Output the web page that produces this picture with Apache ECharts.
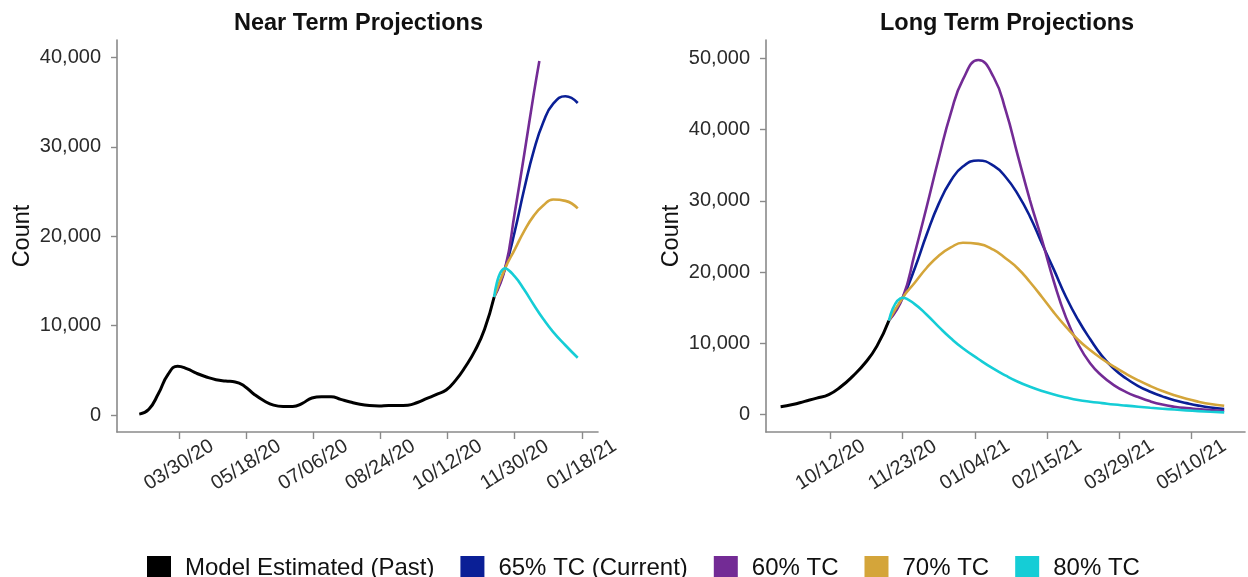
<!DOCTYPE html>
<html>
<head>
<meta charset="utf-8">
<script src="https://cdn.jsdelivr.net/npm/echarts@6/dist/echarts.min.js"></script>
<style>
  html, body { margin: 0; padding: 0; background: #ffffff; }
  #chart { width: 1248px; height: 577px; }
</style>
</head>
<body>
<div id="chart"></div>
<script>
// ---- Model estimates (weekly) ----
const pastDates = [
  '2020-03-01','2020-03-08','2020-03-15','2020-03-22','2020-03-29','2020-04-05','2020-04-12','2020-04-19',
  '2020-04-26','2020-05-03','2020-05-10','2020-05-17','2020-05-24','2020-05-31','2020-06-07','2020-06-14',
  '2020-06-21','2020-06-28','2020-07-05','2020-07-12','2020-07-19','2020-07-26','2020-08-02','2020-08-09',
  '2020-08-16','2020-08-23','2020-08-30','2020-09-06','2020-09-13','2020-09-20','2020-09-27','2020-10-04',
  '2020-10-11','2020-10-18','2020-10-25','2020-11-01','2020-11-08','2020-11-15'
];
const pastCounts = [
  100, 650, 2400, 4550, 5450, 5150, 4650, 4250,
  3950, 3800, 3700, 3200, 2300, 1600, 1100, 950,
  950, 1300, 1900, 2050, 2050, 1750, 1450, 1200,
  1050, 1000, 1050, 1050, 1100, 1400, 1850, 2300,
  2800, 3900, 5400, 7200, 9600, 13200
];

// ---- Projection scenarios by transmission control (TC) ----
const projectionDates = [
  '2020-11-15','2020-11-23','2020-11-30','2020-12-07','2020-12-14','2020-12-21','2020-12-28','2021-01-06',
  '2021-01-15','2021-01-22','2021-01-29','2021-02-05','2021-02-12','2021-02-19','2021-02-26','2021-03-05',
  '2021-03-12','2021-03-19','2021-03-26','2021-04-02','2021-04-09','2021-04-16','2021-04-23','2021-04-30',
  '2021-05-07','2021-05-14','2021-05-21','2021-05-29'
];
const tc65 = [
  13200, 16400, 20500, 25300, 29600, 32800, 34800, 35650,
  34900, 33300, 30900, 27800, 24000, 20300, 16500, 13300,
  10600, 8200, 6400, 5050, 4000, 3200, 2550, 2000,
  1600, 1250, 980, 770
];
const tc60 = [
  13200, 16400, 22600, 29200, 36000, 42300, 47000, 49750,
  47300, 42600, 36300, 30100, 24500, 18600, 13600, 9900,
  7200, 5400, 4100, 3150, 2450, 1850, 1400, 1100,
  900, 770, 640, 530
];
const tc70 = [
  13200, 16400, 18500, 20600, 22300, 23450, 24100, 23950,
  23100, 21900, 20500, 18600, 16500, 14300, 12300, 10500,
  9050, 7800, 6700, 5700, 4800, 4000, 3300, 2700,
  2200, 1800, 1480, 1230
];
const tc80 = [
  13200, 16400, 15500, 14000, 12300, 10700, 9300, 7800,
  6400, 5450, 4600, 3900, 3300, 2800, 2400, 2050,
  1800, 1600, 1400, 1250, 1100, 950, 820, 700,
  580, 480, 390, 310
];
// Last plotted 60% TC point in the near-term view, where it leaves the count range
const tc60NearEnd = ['2020-12-18', 39600];

// ---- Axis ticks ----
const nearTicks = ['2020-03-30','2020-05-18','2020-07-06','2020-08-24','2020-10-12','2020-11-30','2021-01-18'];
const longTicks = ['2020-10-12','2020-11-23','2021-01-04','2021-02-15','2021-03-29','2021-05-10'];
const nearCountTicks = [0, 10000, 20000, 30000, 40000];
const longCountTicks = [0, 10000, 20000, 30000, 40000, 50000];

// ---- Labels ----
const seriesNames = ['Model Estimated (Past)', '65% TC (Current)', '60% TC', '70% TC', '80% TC'];
const seriesColors = ['#000000', '#0a1f96', '#732b95', '#d4a53a', '#15cdd6'];

const DAY = 86400000;
const toTime = s => { const [y, m, d] = s.split('-').map(Number); return Date.UTC(y, m - 1, d); };
const pad = n => String(n).padStart(2, '0');
const fmtDate = v => { const d = new Date(v); return pad(d.getUTCMonth() + 1) + '/' + pad(d.getUTCDate()) + '/' + pad(d.getUTCFullYear() % 100); };
const fmtCount = v => Number(v).toLocaleString('en-US');

const pastPairs = pastDates.map((d, i) => [toTime(d), pastCounts[i]]);
const projPairs = arr => projectionDates.map((d, i) => [toTime(d), arr[i]]);
const scenarios = [tc65, tc60, tc70, tc80];

// Near-term window runs through mid-January; values above the count range are dropped
const nearEnd = toTime('2021-01-15');
const nearCeiling = 40000;
// Long-term window starts in mid-September
const longStart = toTime('2020-09-13');

const FONT = '"Liberation Sans", Arial, Helvetica, sans-serif';
const axisGray = '#8a8a8a';
const textGray = '#2a2a2a';

function xAxisCfg(gridIndex, min, max, ticks) {
  const tv = ticks.map(toTime);
  return {
    type: 'value', gridIndex, min, max,
    axisLine: { show: true, onZero: false, lineStyle: { color: axisGray, width: 1.6 } },
    axisTick: { show: true, customValues: tv, length: 7, lineStyle: { color: axisGray, width: 1.4 } },
    axisLabel: {
      customValues: tv, rotate: 32, align: 'center', verticalAlign: 'middle', margin: 33,
      fontSize: 20, color: textGray, fontFamily: FONT, formatter: fmtDate
    },
    splitLine: { show: false }
  };
}
function yAxisCfg(gridIndex, min, max, ticks) {
  return {
    type: 'value', gridIndex, min, max,
    name: 'Count', nameLocation: 'middle', nameRotate: 90, nameGap: 82,
    nameTextStyle: { fontSize: 23.5, color: '#111', fontFamily: FONT },
    axisLine: { show: true, lineStyle: { color: axisGray, width: 1.6 } },
    axisTick: { show: true, customValues: ticks, length: 6, lineStyle: { color: axisGray, width: 1.4 } },
    axisLabel: { customValues: ticks, margin: 16, fontSize: 20, color: textGray, fontFamily: FONT, formatter: fmtCount },
    splitLine: { show: false }
  };
}
function lineSeries(idx, axisIndex, data) {
  return {
    type: 'line', name: seriesNames[idx], xAxisIndex: axisIndex, yAxisIndex: axisIndex,
    data, smooth: 0.5, showSymbol: false, symbol: 'none', clip: true,
    color: seriesColors[idx],
    lineStyle: { color: seriesColors[idx], width: idx === 0 ? 3 : 2.6 },
    emphasis: { disabled: true }, animation: false, z: 2 + idx
  };
}

const series = [];
// Near term panel
series.push(lineSeries(0, 0, pastPairs));
scenarios.forEach((arr, k) => {
  let pts = projPairs(arr).filter(p => p[0] <= nearEnd && p[1] <= nearCeiling);
  if (arr === tc60) pts = pts.concat([[toTime(tc60NearEnd[0]), tc60NearEnd[1]]]);
  series.push(lineSeries(k + 1, 0, pts));
});
// Long term panel
series.push(lineSeries(0, 1, pastPairs.filter(p => p[0] >= longStart)));
scenarios.forEach((arr, k) => {
  series.push(lineSeries(k + 1, 1, projPairs(arr)));
});

const nearRef = toTime('2020-03-30');
const longRef = toTime('2020-11-23');

const option = {
  backgroundColor: '#ffffff',
  animation: false,
  title: [
    { text: 'Near Term Projections', left: 229, top: 7,
      textStyle: { fontSize: 23.5, fontWeight: 'bold', color: '#111', fontFamily: FONT } },
    { text: 'Long Term Projections', left: 875, top: 7,
      textStyle: { fontSize: 23.5, fontWeight: 'bold', color: '#111', fontFamily: FONT } }
  ],
  legend: {
    data: seriesNames, left: 142, top: 551, icon: 'rect',
    itemWidth: 24, itemHeight: 24, itemGap: 26, selectedMode: false,
    textStyle: { fontSize: 24, color: '#111', fontFamily: FONT, padding: [0, 0, 0, 9] }
  },
  grid: [
    { left: 117, right: 650, top: 40, bottom: 145 },
    { left: 766, right: 3, top: 40, bottom: 145 }
  ],
  xAxis: [
    xAxisCfg(0, nearRef - 45.26 * DAY, nearRef + 305.8 * DAY, nearTicks),
    xAxisCfg(1, longRef - 79.5 * DAY, longRef + 199.1 * DAY, longTicks)
  ],
  yAxis: [
    yAxisCfg(0, -1902, 41946, nearCountTicks),
    yAxisCfg(1, -2450, 52562, longCountTicks)
  ],
  series
};

const chart = echarts.init(document.getElementById('chart'), null, { renderer: 'canvas' });
chart.setOption(option);
</script>
</body>
</html>
